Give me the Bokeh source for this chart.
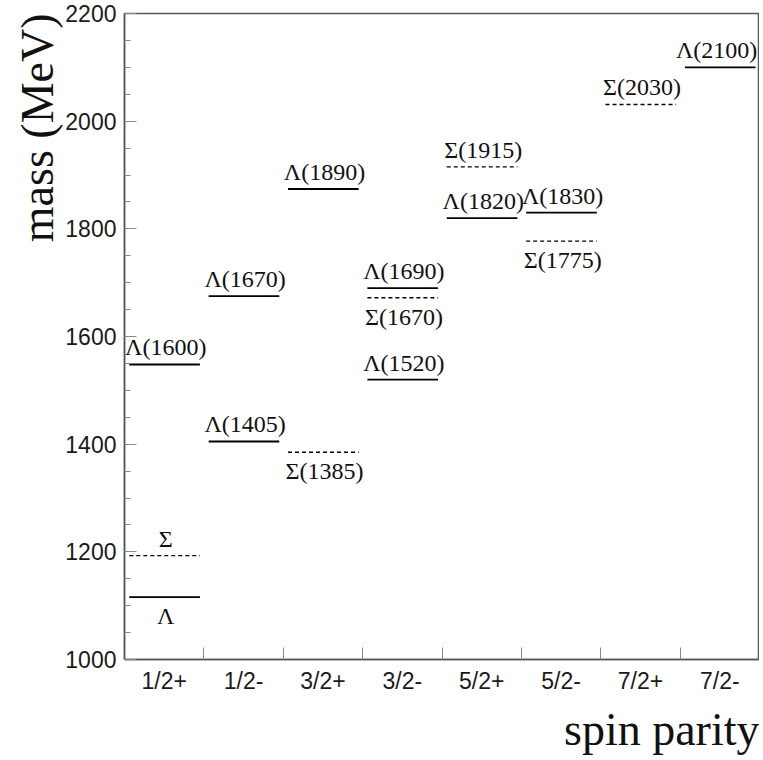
import numpy as np
from bokeh.plotting import figure
from bokeh.models import ColumnDataSource, FixedTicker, SingleIntervalTicker, Title, Range1d
from bokeh.core.properties import value
from bokeh.embed import file_html
from bokeh.resources import INLINE

# ---- data ----
categories = ["1/2+", "1/2-", "3/2+", "3/2-", "5/2+", "5/2-", "7/2+", "7/2-"]

lambda_names = ["Λ", "Λ(1600)", "Λ(1405)", "Λ(1670)", "Λ(1890)", "Λ(1520)",
                "Λ(1690)", "Λ(1820)", "Λ(1830)", "Λ(2100)"]
lambda_jp = ["1/2+", "1/2+", "1/2-", "1/2-", "3/2+", "3/2-", "3/2-", "5/2+", "5/2-", "7/2-"]
lambda_mass = [1116, 1548, 1405, 1675, 1874, 1520, 1690, 1820, 1830, 2100]
lambda_label_below = [True, False, False, False, False, False, False, False, False, False]

sigma_names = ["Σ", "Σ(1385)", "Σ(1670)", "Σ(1915)", "Σ(1775)", "Σ(2030)"]
sigma_jp = ["1/2+", "3/2+", "3/2-", "5/2+", "5/2-", "7/2+"]
sigma_mass = [1193, 1385, 1672, 1915, 1777, 2031]
sigma_label_below = [False, True, True, False, True, False]

# ---- figure ----
p = figure(frame_width=635, frame_height=646, output_backend="svg", toolbar_location=None,
           x_range=Range1d(0, len(categories)), y_range=Range1d(1000, 2200),
           min_border_left=124, min_border_right=0, min_border_top=13, min_border_bottom=101)
p.background_fill_color = "white"
p.border_fill_color = "white"
p.outline_line_color = "#555555"
p.outline_line_width = 1.5
p.xgrid.visible = False
p.ygrid.visible = False

tick_font = "Liberation Sans"
serif = "Liberation Serif"

# x axis: labels at category centres, ticks at category boundaries
centres = [i + 0.5 for i in range(len(categories))]
bounds = [float(i) for i in range(1, len(categories))]
p.xaxis.ticker = FixedTicker(ticks=centres, minor_ticks=bounds)
p.xaxis.major_label_overrides = {c: lab for c, lab in zip(centres, categories)}
p.xaxis.major_tick_in = 0
p.xaxis.major_tick_out = 0
p.xaxis.minor_tick_in = 12
p.xaxis.minor_tick_out = 0
p.xaxis.minor_tick_line_color = "#888888"
p.xaxis.major_label_text_font = tick_font
p.xaxis.major_label_text_font_size = "23px"
p.xaxis.major_label_text_color = "#1a1a1a"
p.xaxis.major_label_standoff = 8
p.xaxis.axis_line_color = "#555555"
p.xaxis.axis_line_width = 1.5

p.yaxis.ticker = SingleIntervalTicker(interval=200, num_minor_ticks=4)
p.yaxis.major_tick_in = 12
p.yaxis.major_tick_out = 0
p.yaxis.minor_tick_in = 6
p.yaxis.minor_tick_out = 0
p.yaxis.major_tick_line_color = "#888888"
p.yaxis.minor_tick_line_color = "#888888"
p.yaxis.major_label_text_font = tick_font
p.yaxis.major_label_text_font_size = "23px"
p.yaxis.major_label_text_color = "#1a1a1a"
p.yaxis.major_label_standoff = 8
p.yaxis.axis_line_color = "#555555"
p.yaxis.axis_line_width = 1.5

n_cat = len(categories)


def build(names, jp, mass, below):
    idx = np.array([categories.index(j) for j in jp], dtype=float)
    return ColumnDataSource(dict(
        x0=idx + 0.06, x1=idx + 0.95, xc=np.minimum(idx + 0.52, n_cat - 0.54),
        y=mass, name=names,
        yoff=[19 if b else -17 for b in below],
    ))


lam = build(lambda_names, lambda_jp, lambda_mass, lambda_label_below)
sig = build(sigma_names, sigma_jp, sigma_mass, sigma_label_below)

p.segment(x0="x0", x1="x1", y0="y", y1="y", source=lam, line_color="black", line_width=1.8)
p.segment(x0="x0", x1="x1", y0="y", y1="y", source=sig, line_color="black", line_width=1.3,
          line_dash="4 3")

for src in (lam, sig):
    p.text(x="xc", y="y", text="name", source=src, y_offset="yoff",
           text_font=value(serif), text_font_size="24px", text_align="center",
           text_baseline="alphabetic", text_color="#111111")

# axis titles
p.add_layout(Title(text="mass (MeV)", align="right", text_font=serif,
                   text_font_size="46px", text_font_style="normal", standoff=0,
                   text_color="#111111"), "left")
p.add_layout(Title(text="spin parity", align="right", text_font=serif,
                   text_font_size="46px", text_font_style="normal",
                   text_color="#111111"), "below")

open("out.html", "w").write(file_html(p, INLINE))
